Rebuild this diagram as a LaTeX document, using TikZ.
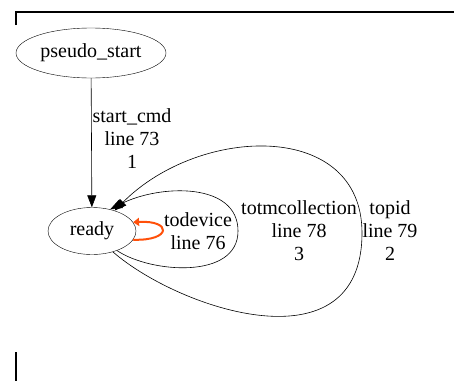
\documentclass[tikz,border=0pt]{standalone}
\usepackage{fontspec}
\setmainfont{Liberation Serif}
\usetikzlibrary{shapes.geometric,arrows.meta}
\begin{document}
\begin{tikzpicture}[x=1pt,y=-1pt,
  thin,state node/.style={ellipse,draw,inner sep=0pt,font=\fontsize{20}{23}\selectfont},
  label text/.style={align=center,font=\fontsize{20}{23}\selectfont},
  trans/.style={line width=0.6pt,-{Triangle[length=12pt,width=9pt]}},
  fired/.style={line width=2pt,draw={rgb,255:red,255;green,80;blue,10},
    -{Triangle[length=6pt,width=8pt,fill={rgb,255:red,255;green,80;blue,10}]}}]

  \useasboundingbox (0,0) rectangle (454,381);

  % frame
  \draw[line width=1.3pt] (16,25) -- (16,12) -- (454,12);
  \draw[line width=1.3pt] (16,352) -- (16,381);

  \node[state node,minimum width=150pt,minimum height=50pt] (start) at (91,53) {pseudo\_start};
  \node[state node,minimum width=88pt,minimum height=47pt] (ready) at (92,231) {ready};

  \path[trans] (start) edge (ready);
  \node[label text] (l73) at (132,139) {start\_cmd\\line 73\\1};

  % self loops
  \draw[fired] (ready.-12) .. controls (172,241) and (172,220) .. (ready.12);
  \node[label text] (l76) at (198,231) {todevice\\line 76};

  \draw[trans] (ready.-38) .. controls (150,273) and (238,280) .. (238,231)
    .. controls (238,182) and (160,184) .. (ready.50);
  \node[label text] (l78) at (299,231) {totmcollection\\line 78\\3};

  \draw[trans] (ready.-45) .. controls (180,310) and (362,370) .. (362,233)
    .. controls (362,120) and (200,125) .. (ready.42);
  \node[label text] (l79) at (390,231) {topid\\line 79\\2};
\end{tikzpicture}
\end{document}
